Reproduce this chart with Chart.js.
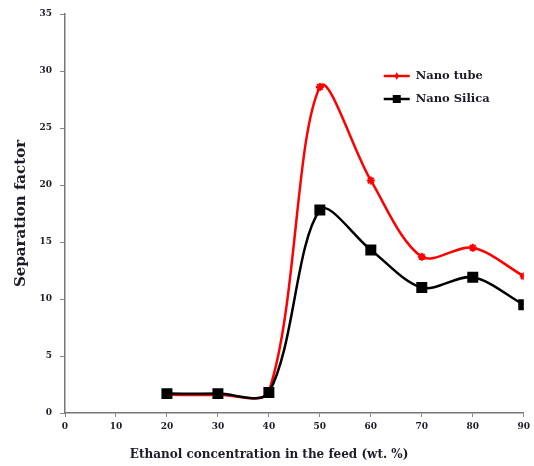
<!DOCTYPE html>
<html lang="en">
<head>
  <meta charset="UTF-8">
  <title>Separation factor</title>
  <script src="https://cdn.jsdelivr.net/npm/chart.js"></script>
  <style>
    html, body {
      margin: 0;
      padding: 0;
      background: #fff;
    }
    #wrap {
      width: 534px;
      height: 466px;
    }
  </style>
</head>
<body>
  <div id="wrap"><canvas id="grafico"></canvas></div>

  <script>
    const concentracao = [20, 30, 40, 50, 60, 70, 80, 90];
    const nanoTube = [1.6, 1.6, 1.9, 28.6, 20.4, 13.7, 14.5, 12.0];
    const nanoSilica = [1.7, 1.7, 1.8, 17.8, 14.3, 11.0, 11.9, 9.5];
    const xTicks = [0, 10, 20, 30, 40, 50, 60, 70, 80, 90];
    const yTicks = [0, 5, 10, 15, 20, 25, 30, 35];
    const tituloX = "Ethanol concentration in the feed (wt. %)";

    const serif = "'DejaVu Serif', 'Liberation Serif', serif";
    const textColor = "#1c1c2a";

    // legend inside the plot (top right) + x title, which sits a bit left of centre in the original
    const extras = {
      id: "extras",
      afterDraw(chart) {
        const ctx = chart.ctx;
        const area = chart.chartArea;
        const x0 = area.right - 140;
        let y = area.top + 62;
        ctx.save();
        ctx.font = "bold 11.5px " + serif;
        ctx.textBaseline = "middle";
        chart.data.datasets.forEach(ds => {
          ctx.strokeStyle = ds.borderColor;
          ctx.lineWidth = 2.5;
          ctx.beginPath();
          ctx.moveTo(x0, y);
          ctx.lineTo(x0 + 26, y);
          ctx.stroke();
          ctx.fillStyle = ds.borderColor;
          if (ds.pointStyle === "rect") {
            ctx.fillRect(x0 + 9, y - 4, 8, 8);
          } else {
            ctx.beginPath();
            ctx.moveTo(x0 + 13, y - 4);
            ctx.lineTo(x0 + 15, y);
            ctx.lineTo(x0 + 13, y + 4);
            ctx.lineTo(x0 + 11, y);
            ctx.closePath();
            ctx.fill();
          }
          ctx.fillStyle = textColor;
          ctx.fillText(ds.label, x0 + 32, y);
          y += 23;
        });

        ctx.font = "bold 12px " + serif;
        ctx.textAlign = "center";
        ctx.fillStyle = textColor;
        ctx.fillText(tituloX, area.left + (area.right - area.left) * 0.445, area.bottom + 42);
        ctx.restore();
      }
    };

    const ctx = document.getElementById("grafico").getContext("2d");
    new Chart(ctx, {
      type: "line",
      data: {
        datasets: [{
          label: "Nano tube",
          data: concentracao.map((c, i) => ({ x: c, y: nanoTube[i] })),
          borderColor: "#ff0000",
          backgroundColor: "#ff0000",
          borderWidth: 2.5,
          pointStyle: "star",
          pointRadius: 4,
          pointBorderWidth: 2,
          tension: 0.32,
          order: 1
        }, {
          label: "Nano Silica",
          data: concentracao.map((c, i) => ({ x: c, y: nanoSilica[i] })),
          borderColor: "#000000",
          backgroundColor: "#000000",
          borderWidth: 2.5,
          pointStyle: "rect",
          pointRadius: 6,
          tension: 0.32,
          order: 0
        }]
      },
      options: {
        responsive: true,
        maintainAspectRatio: false,
        animation: false,
        layout: { padding: { left: 8, right: 0, top: 14, bottom: 4 } },
        plugins: {
          legend: { display: false },
          tooltip: { enabled: false }
        },
        scales: {
          x: {
            type: "linear",
            min: 0,
            max: 90,
            afterBuildTicks: s => { s.ticks = xTicks.map(v => ({ value: v })); },
            grid: { drawOnChartArea: false, drawTicks: true, tickLength: 4, color: "#888" },
            border: { color: "#777", width: 1.5 },
            ticks: { color: textColor, font: { family: serif, weight: "bold", size: 9 }, padding: 4 },
            afterFit: s => { s.height = 49; }
          },
          y: {
            min: 0,
            max: 35,
            afterBuildTicks: s => { s.ticks = yTicks.map(v => ({ value: v })); },
            grid: { drawOnChartArea: false, drawTicks: true, tickLength: 5, color: "#888" },
            border: { color: "#777", width: 1.5 },
            ticks: { color: textColor, font: { family: serif, weight: "bold", size: 9 }, padding: 8 },
            title: {
              display: true,
              text: "Separation factor",
              color: textColor,
              font: { family: serif, weight: "bold", size: 15 }
            },
            afterFit: s => { s.width = 57; }
          }
        }
      },
      plugins: [extras]
    });
  </script>
</body>
</html>
